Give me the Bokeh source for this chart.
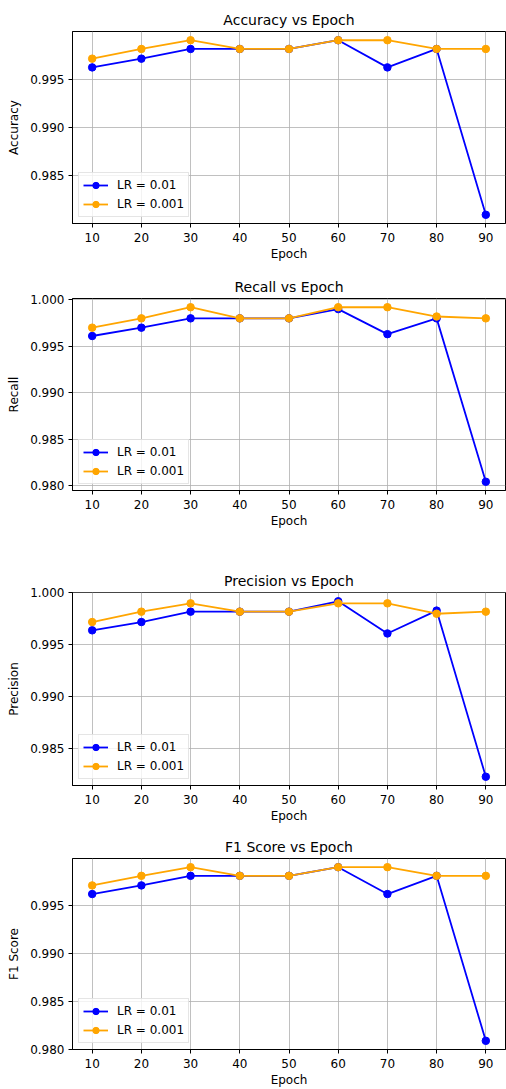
from bokeh.plotting import figure
from bokeh.layouts import column
from bokeh.models import Range1d, FixedTicker, NumeralTickFormatter
from bokeh.embed import file_html
from bokeh.resources import INLINE

# Training epochs at which the metrics were evaluated
epochs = [10, 20, 30, 40, 50, 60, 70, 80, 90]

# Metric values for the two learning rates
acc_lr01 = [0.9962, 0.9971, 0.9981, 0.9981, 0.9981, 0.9990, 0.9962, 0.9981, 0.9810]
acc_lr001 = [0.9971, 0.9981, 0.9990, 0.9981, 0.9981, 0.9990, 0.9990, 0.9981, 0.9981]

rec_lr01 = [0.9961, 0.9970, 0.9980, 0.9980, 0.9980, 0.9990, 0.9963, 0.9980, 0.9804]
rec_lr001 = [0.9970, 0.9980, 0.9992, 0.9980, 0.9980, 0.9992, 0.9992, 0.9982, 0.9980]

prec_lr01 = [0.9964, 0.9972, 0.9982, 0.9982, 0.9982, 0.9992, 0.9961, 0.9983, 0.9823]
prec_lr001 = [0.9972, 0.9982, 0.9990, 0.9982, 0.9982, 0.9990, 0.9990, 0.9980, 0.9982]

f1_lr01 = [0.9962, 0.9971, 0.9981, 0.9981, 0.9981, 0.9990, 0.9962, 0.9981, 0.9809]
f1_lr001 = [0.9971, 0.9981, 0.9990, 0.9981, 0.9981, 0.9990, 0.9990, 0.9981, 0.9981]

series_labels = ["LR = 0.01", "LR = 0.001"]
series_colors = ["#0000ff", "#ffa500"]

y_ticks = [0.980, 0.985, 0.990, 0.995, 1.000]
x_ticks = epochs

FONT = "DejaVu Sans"


def padded(values, frac=0.05):
    lo, hi = min(values), max(values)
    span = hi - lo
    return lo - frac * span, hi + frac * span


def metric_panel(title, ylabel, lr01, lr001, height, left, right, top, bottom):
    x0, x1 = padded(epochs)
    y0, y1 = padded(lr01 + lr001)
    p = figure(
        width=506, height=height,
        x_range=Range1d(x0, x1), y_range=Range1d(y0, y1),
        output_backend="svg", toolbar_location=None,
        min_border_left=left, min_border_right=right,
        min_border_top=top, min_border_bottom=bottom,
        background_fill_color="white", border_fill_color="white",
    )
    p.title.text = title
    p.title.align = "center"
    p.title.text_font = FONT
    p.title.text_font_size = "14px"
    p.title.text_font_style = "normal"
    p.title.text_color = "#000000"
    p.title.standoff = 8

    p.outline_line_color = "#000000"
    p.outline_line_width = 1

    for ax in (p.xaxis[0], p.yaxis[0]):
        ax.axis_line_color = "#000000"
        ax.major_tick_line_color = "#000000"
        ax.major_tick_out = 4
        ax.major_tick_in = 0
        ax.minor_tick_line_color = None
        ax.major_label_text_font = FONT
        ax.major_label_text_font_size = "12px"
        ax.major_label_text_color = "#000000"
        ax.axis_label_text_font = FONT
        ax.axis_label_text_font_size = "12px"
        ax.axis_label_text_font_style = "normal"
        ax.axis_label_text_color = "#000000"

    p.xaxis.ticker = FixedTicker(ticks=x_ticks)
    p.yaxis.ticker = FixedTicker(ticks=y_ticks)
    p.yaxis.formatter = NumeralTickFormatter(format="0.000")
    p.xaxis.axis_label = "Epoch"
    p.yaxis.axis_label = ylabel
    p.xaxis.major_label_standoff = 5
    p.xaxis.axis_label_standoff = 2
    p.yaxis.major_label_standoff = 4
    p.yaxis.axis_label_standoff = 6

    p.grid.grid_line_color = "#b0b0b0"
    p.grid.grid_line_width = 0.8

    for vals, lab, col in zip((lr01, lr001), series_labels, series_colors):
        p.line(epochs, vals, line_color=col, line_width=1.8, legend_label=lab)
        p.scatter(epochs, vals, marker="circle", size=7.5, fill_color=col,
                  line_color=col, legend_label=lab)

    lg = p.legend[0]
    lg.location = "bottom_left"
    lg.margin = 6
    lg.padding = 4
    lg.spacing = 3
    lg.glyph_width = 25
    lg.glyph_height = 16
    lg.label_height = 16
    lg.label_standoff = 9
    lg.label_text_font = FONT
    lg.label_text_font_size = "12px"
    lg.label_text_color = "#000000"
    lg.border_line_color = "#cccccc"
    lg.border_line_width = 1
    lg.background_fill_color = "white"
    lg.background_fill_alpha = 0.8
    return p


p1 = metric_panel("Accuracy vs Epoch", "Accuracy", acc_lr01, acc_lr001, 265, 69, 1, 31, 42)
p2 = metric_panel("Recall vs Epoch", "Recall", rec_lr01, rec_lr001, 296, 69, 1, 33, 71)
p3 = metric_panel("Precision vs Epoch", "Precision", prec_lr01, prec_lr001, 266, 72, 0, 31, 42)
p4 = metric_panel("F1 Score vs Epoch", "F1 Score", f1_lr01, f1_lr001, 262, 72, 0, 31, 39)

page = column(p1, p2, p3, p4, spacing=0)
open("out.html", "w").write(file_html(page, INLINE))
